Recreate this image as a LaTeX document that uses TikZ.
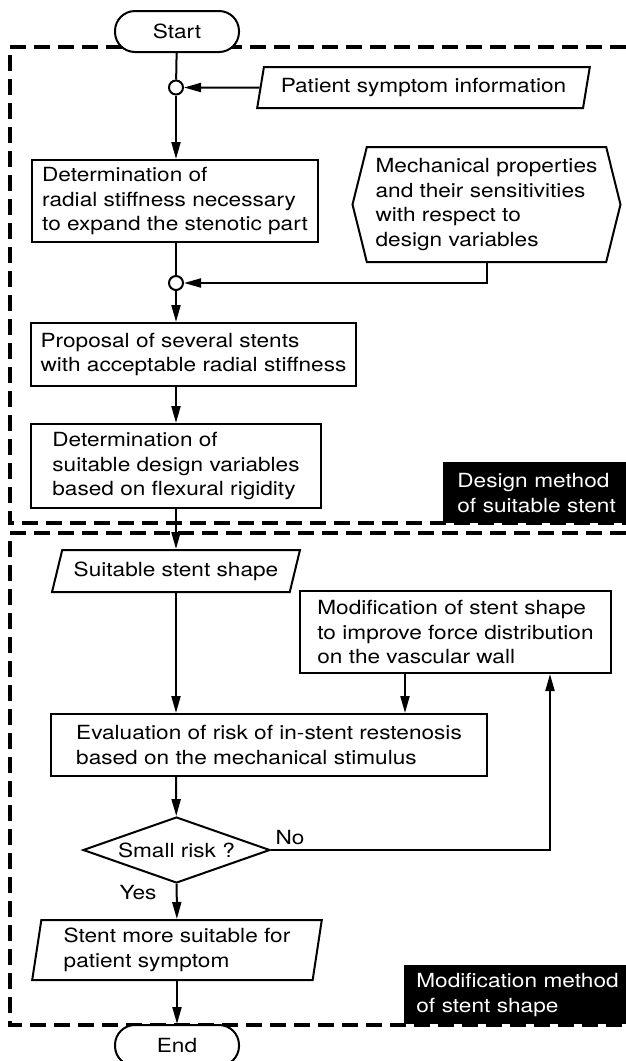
\documentclass[tikz,border=0pt]{standalone}
\usepackage{fontspec}
\setmainfont{TeX Gyre Heros}[FakeStretch=1.16]
\usetikzlibrary{shapes.geometric,shapes.symbols,arrows.meta}
\tikzset{
  process/.style={
    shape = rectangle,
    draw,
    fill = white,
    line width = 1pt,
    align = left,
    inner sep = 0pt
  },
  terminal/.style={
    process,
    rounded corners = 10pt,
    minimum width = 62pt,
    minimum height = 20.5pt
  },
  junc/.style={
    shape = circle,
    draw,
    fill = white,
    line width = 1pt,
    inner sep = 0pt,
    minimum size = 7pt
  },
  io/.style={
    process,
    shape = trapezium,
    trapezium stretches = true
  },
  given/.style={
    process,
    shape = signal,
    signal to = west and east,
    signal pointer angle = 152
  },
  decision/.style={
    process,
    shape = diamond,
    aspect = 2.8
  },
  tag/.style={
    shape = rectangle,
    fill = black,
    text = white,
    anchor = north west,
    align = left,
    inner xsep = 7pt,
    inner ysep = 0pt,
    text width = 110pt
  },
  region/.style={
    dash pattern = on 8pt off 4pt,
    line width = 1.6pt
  },
  arr/.style={
    line width = 1pt,
    -{Triangle[length=8.5pt,width=4.5pt]}
  },
  conn/.style={
    line width = 1pt
  }
}

\begin{document}
\begin{tikzpicture}[x=0.5pt,y=-0.5pt,font=\fontsize{9.75}{12.25}\selectfont]
    \useasboundingbox (0,0) rectangle (626,1061);

    % the two method regions
    \draw[region] (626,47) -- (10,47) -- (10,523) -- (626,523);
    \draw[region] (626,533) -- (10,533) -- (10,1025) -- (626,1025);

    % design method
    \node[terminal] (start) at (177,31.5) {Start};
    \node[junc] (c1) at (176,87.5) {};
    \node[io, trapezium left angle=72, trapezium right angle=108,
          minimum width=166.5pt, minimum height=20.5pt] (pat) at (423.5,87.5)
          {Patient symptom information};
    \node[process, minimum width=143pt, minimum height=41pt] (det1) at (175,201)
          {Determination of\\radial stiffness necessary\\to expand the stenotic part};
    \node[given, minimum width=134pt, minimum height=57.5pt] (mech) at (486.5,204.5)
          {Mechanical properties\\and their sensitivities\\with respect to\\design variables};
    \node[junc] (c2) at (176,283) {};
    \node[process, minimum width=162.5pt, minimum height=31.5pt] (det2) at (193.5,354.5)
          {Proposal of several stents\\with acceptable radial stiffness};
    \node[process, minimum width=145pt, minimum height=42pt] (det3) at (176,466)
          {Determination of\\suitable design variables\\based on flexural rigidity};
    \node[tag, minimum height=30.5pt] (design) at (443,462)
          {Design method\\of suitable stent};

    % modification method
    \node[io, trapezium left angle=64, trapezium right angle=116,
          minimum width=124pt, minimum height=21pt] (suit) at (176,571)
          {Suitable stent shape};
    \node[process, minimum width=155.5pt, minimum height=41pt] (mod) at (455.5,632)
          {Modification of stent shape\\to improve force distribution\\on the vascular wall};
    \node[process, minimum width=218pt, minimum height=31pt] (eval) at (269,745)
          {Evaluation of risk of in-stent restenosis\\based on the mechanical stimulus};
    \node[decision, minimum width=93.5pt, minimum height=33pt] (risk) at (176.5,850)
          {Small risk ?};
    \node (no) at (290,838) {No};
    \node (yes) at (138,893) {Yes};
    \node[io, trapezium left angle=80, trapezium right angle=100,
          minimum width=145pt, minimum height=30pt] (stent) at (177,950)
          {Stent more suitable for\\patient symptom};
    \node[tag, minimum height=29.5pt, inner xsep=6pt] (modtag) at (404,965)
          {Modification method\\of stent shape};
    \node[terminal] (end) at (177,1045.5) {End};
    \coordinate (loop) at (550,850);

    % connectors
    \draw[conn] (start) -- (c1);
    \draw[arr] (pat) -- (c1);
    \draw[arr] (c1) -- (c1 |- det1.north);
    \draw[conn] (c1 |- det1.south) -- (c2);
    \draw[arr] (mech.south) |- (c2);
    \draw[arr] (c2) -- (c2 |- det2.north);
    \draw[arr] (c2 |- det2.south) -- (c2 |- det3.north);
    \draw[arr] (c2 |- det3.south) -- (c2 |- suit.north);
    \draw[arr] (c2 |- suit.south) -- (c2 |- eval.north);
    \draw[arr] ([xshift=-25.25pt]mod.south) -- ([xshift=-25.25pt]mod.south |- eval.north);
    \draw[arr] (c2 |- eval.south) -- (risk);
    \draw[arr] (risk.east) -- (loop) -- (loop |- mod.south);
    \draw[arr] (risk) -- (stent);
    \draw[arr] (stent) -- (end);
\end{tikzpicture}
\end{document}
